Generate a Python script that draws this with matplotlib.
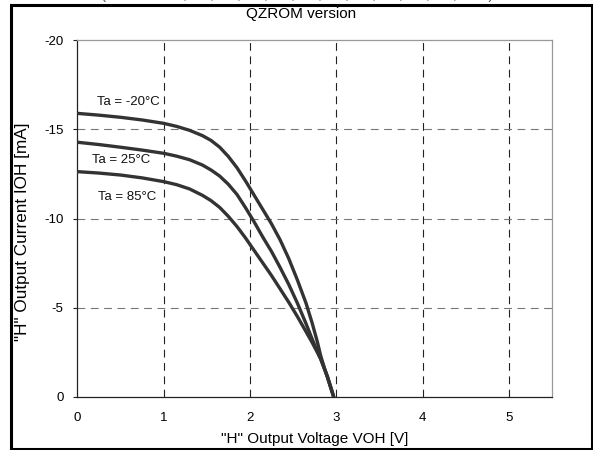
import matplotlib
matplotlib.use("Agg")
import matplotlib.pyplot as plt
from matplotlib.patches import Rectangle

plt.rcParams['font.family'] = ['Liberation Sans', 'DejaVu Sans']
plt.rcParams['axes.unicode_minus'] = False

# "H" output voltage [V] vs. output current [mA] for each ambient temperature
V_M20 = [0.0, 0.25, 0.5, 0.75, 1.0, 1.15, 1.3, 1.45, 1.55, 1.65, 1.75, 1.85, 1.95, 2.05, 2.15,
         2.25, 2.35, 2.45, 2.55, 2.65, 2.72, 2.78, 2.82, 2.87, 2.92, 2.97]
I_M20 = [-15.9, -15.8, -15.68, -15.53, -15.34, -15.17, -14.95, -14.65, -14.38, -14.0, -13.48,
         -12.85, -12.1, -11.3, -10.5, -9.7, -8.8, -7.75, -6.55, -5.25, -4.15, -3.1, -2.3,
         -1.5, -0.75, 0.0]

V_25 = [0.0, 0.25, 0.5, 0.75, 1.0, 1.15, 1.3, 1.45, 1.55, 1.65, 1.75, 1.85, 1.95, 2.05, 2.15,
        2.25, 2.35, 2.45, 2.55, 2.65, 2.72, 2.78, 2.82, 2.9, 2.97]
I_25 = [-14.28, -14.15, -14.0, -13.84, -13.66, -13.5, -13.3, -13.0, -12.72, -12.38, -11.92,
        -11.35, -10.6, -9.8, -8.95, -8.15, -7.25, -6.3, -5.25, -4.1, -3.25, -2.55, -2.12,
        -1.1, 0.0]

V_85 = [0.0, 0.25, 0.5, 0.75, 1.0, 1.15, 1.3, 1.45, 1.55, 1.65, 1.75, 1.85, 1.95, 2.05, 2.15,
        2.25, 2.35, 2.45, 2.55, 2.65, 2.72, 2.78, 2.82, 2.9, 2.97]
I_85 = [-12.63, -12.55, -12.44, -12.28, -12.07, -11.9, -11.66, -11.3, -11.0, -10.62, -10.12,
        -9.55, -8.9, -8.2, -7.5, -6.8, -6.05, -5.3, -4.5, -3.65, -3.05, -2.5, -2.12, -1.1, 0.0]

CURVE_LABELS = ['Ta = -20°C', 'Ta = 25°C', 'Ta = 85°C']
LABEL_POS = [(0.95, -16.55), (0.84, -13.28), (0.92, -11.22)]

X_TICKS = [0, 1, 2, 3, 4, 5]
Y_TICKS = [-20, -15, -10, -5, 0]

fig = plt.figure(figsize=(5.93, 4.5), dpi=100)
ax = fig.add_axes([77.3 / 593, 1 - 396.7 / 450, (552 - 77.3) / 593, (396.7 - 40.3) / 450])

# grid: black dashed verticals, grey dashed horizontals
for v in X_TICKS[1:]:
    ax.axvline(v, color='#222222', lw=0.8, dashes=(7, 5), zorder=1)
for c in Y_TICKS[1:-1]:
    ax.axhline(c, color='#777777', lw=0.8, dashes=(7, 5), zorder=1)

for vs, cs in [(V_M20, I_M20), (V_25, I_25), (V_85, I_85)]:
    ax.plot(vs, cs, color='#333333', lw=2.4, solid_capstyle='round',
            solid_joinstyle='round', zorder=3)

for txt, (x, y) in zip(CURVE_LABELS, LABEL_POS):
    ax.text(x, y, txt, ha='right', va='center', fontsize=9.5, color='#111111',
            bbox=dict(facecolor='white', edgecolor='none', pad=0.5), zorder=2)

ax.set_xlim(0, 5.5)
ax.set_ylim(0, -20)
ax.set_xticks(X_TICKS)
ax.set_yticks(Y_TICKS)
ax.tick_params(axis='x', length=0, pad=11, labelsize=9.5)
ax.tick_params(axis='y', length=3, width=0.8, direction='out', pad=7, labelsize=9.5, color='#222222')

for side in ['left', 'bottom']:
    ax.spines[side].set_color('#222222')
    ax.spines[side].set_linewidth(0.9)
for side in ['top', 'right']:
    ax.spines[side].set_color('#999999')
    ax.spines[side].set_linewidth(0.9)

ax.set_xlabel('"H" Output Voltage VOH [V]', fontsize=11, labelpad=6)
fig.text(23 / 593, 1 - 231.5 / 450, '"H" Output Current IOH [mA]', rotation=90,
         ha='center', va='center', fontsize=12.3)

fig.text(301 / 593, 1 - 14 / 450, 'QZROM version', ha='center', va='center', fontsize=11)
fig.text(23 / 593, 1 + 0.5 / 450, 'IOH-VOH   (Vcc = 3.0 V, P0, P1, P2, P3, P4, P5, P6, P7, P8, P9, P10)',
         ha='left', va='baseline', fontsize=11, color='#555555')

# outer frame
fig.patches.append(Rectangle((11 / 593, 1 - 448.7 / 450), 580.5 / 593, 443.4 / 450,
                             transform=fig.transFigure, fill=False, edgecolor='black',
                             lw=2.2, zorder=10))

fig.savefig('out.png', dpi=100)
